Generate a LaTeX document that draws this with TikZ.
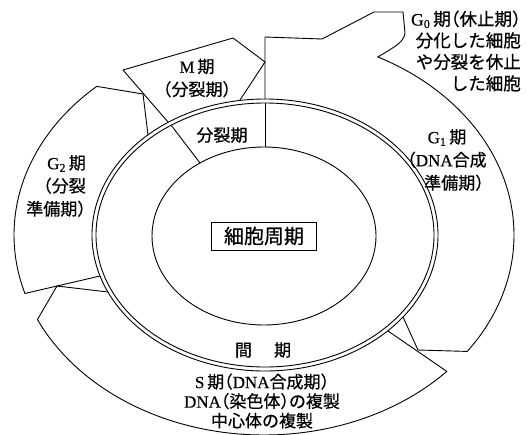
\documentclass[tikz,border=0pt]{standalone}
\usepackage{fontspec}
\setmainfont[RawFeature=+halt, FakeBold=0.6]{Noto Sans CJK JP}
\newfontfamily\ser[FakeBold=0.3]{Liberation Serif}
\newcommand{\latn}[1]{{\ser #1}}
\tikzset{
  ln/.style={line width=0.9pt, line join=round},
  lbl/.style={inner sep=0pt, font=\fontsize{17}{23}\selectfont},
}
\begin{document}
\begin{tikzpicture}[x=1pt,y=-1pt]
\useasboundingbox (0,0) rectangle (526,434);
\fill[white] (0,0) rectangle (526,434);
% inner ellipse and double ring
\draw[ln] (264,236) ellipse [x radius=112pt, y radius=89pt];
\draw[ln] (265,235) ellipse [x radius=173pt, y radius=136pt];
\draw[ln] (265,235) ellipse [x radius=169pt, y radius=132pt];
% dividers of the middle ring
\draw[ln] (171,125) -- (200,163);
\draw[ln] (265,103) -- (265,147);
% M phase
\draw[ln] (168,122) -- (123,70) -- (233,38) -- (265,62) -- (240,100);
% G2 phase
\draw[ln] (148,135) -- (143,94) -- plot[domain=132:197,samples=60] ({264+250*cos(\x)},{235-200*sin(\x)}) -- (100,276);
% S phase
\draw[ln] (108,292) -- (57,286) -- plot[domain=205:317,samples=90] ({264+250*cos(\x)},{235-200*sin(\x)}) -- (388,331);
% G1 / G0 phase
\draw[ln] (265,99) -- (265,37) -- (322,39) -- (374,12) -- (403,12) -- (405,33)
  .. controls (404,43) and (392,48) .. (378,57)
  -- plot[domain=63:-35.6,samples=80] ({264+250*cos(\x)},{235-200*sin(\x)}) -- (418,350) -- (403,317);
% labels
\node[lbl, align=center] (mlab) at (197,78) {\latn{M}\,期\\（分裂期）};
\node[lbl, align=right, anchor=east] (g2lab) at (86,186) {\latn{G\textsubscript{2}}\,期\\（分裂\\準備期）};
\node[lbl, align=center] (g1lab) at (447,160) {\latn{G\textsubscript{1}}\,期\\（\latn{DNA}合成\\\hspace*{14pt}準備期）};
\node[lbl, font=\fontsize{17.5}{21.5}\selectfont, align=right, anchor=east] (g0lab) at (521,51)
  {\latn{G\textsubscript{0}}\,期（休止期）\\分化した細胞\\や分裂を休止\\した細胞};
\node[lbl, font=\fontsize{17}{19.5}\selectfont, align=center] (slab) at (262,401)
  {\latn{S}\,期（\latn{DNA}合成期）\\\latn{DNA}（染色体）の複製\\中心体の複製};
\node[lbl] (kanki) at (263,350) {間\hspace{1.3em}期};
\node[lbl] (bunretsu) at (222,135) {分裂期};
\node[draw, line width=0.6pt, font=\fontsize{20}{22}\selectfont, inner sep=0pt,
  minimum width=105pt, minimum height=28pt] (cycle) at (264,236) {細胞周期};
\end{tikzpicture}
\end{document}
